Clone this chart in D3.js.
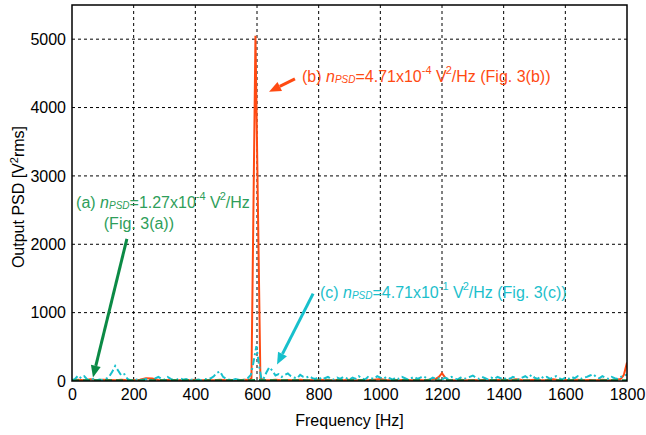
<!DOCTYPE html>
<html>
<head>
<meta charset="utf-8">
<script src="https://cdn.jsdelivr.net/npm/d3@7"></script>
<style>
  body { margin: 0; background: #fff; }
  text { font-family: "Liberation Sans", Arial, Helvetica, sans-serif; }
</style>
</head>
<body>
<div id="chart"></div>
<script>
var margin = {top: 5, right: 19, bottom: 54, left: 72};
var fullWidth = 646, fullHeight = 435;
var width = fullWidth - margin.left - margin.right;
var height = fullHeight - margin.top - margin.bottom;

var xTicks = [0, 200, 400, 600, 800, 1000, 1200, 1400, 1600, 1800];
var yTicks = [0, 1000, 2000, 3000, 4000, 5000];

// (b) orange, solid  [Hz, V^2]
var seriesB = [
  [0,10],[20,20],[40,10],[60,25],[80,10],[100,20],[120,15],[140,10],[160,20],[180,10],
  [200,15],[220,20],[240,40],[260,35],[280,15],[300,10],[320,20],[340,10],[360,15],[380,10],
  [400,20],[420,10],[440,15],[460,10],[480,20],[500,10],[520,15],[540,10],[560,20],[575,15],
  [582,40],[595,5050],[611,40],[620,15],[640,10],[660,20],[680,10],[700,15],[720,10],[740,20],
  [760,10],[780,15],[800,10],[820,20],[840,10],[860,15],[880,10],[900,20],[920,10],[940,15],
  [960,10],[980,20],[1000,30],[1020,10],[1040,15],[1060,10],[1080,20],[1100,10],[1120,15],[1140,10],
  [1160,20],[1180,30],[1190,60],[1200,115],[1210,50],[1220,15],[1240,10],[1260,20],[1280,10],[1300,15],
  [1320,10],[1340,20],[1360,10],[1380,15],[1400,20],[1420,10],[1440,25],[1460,15],[1480,10],[1500,20],
  [1520,10],[1540,15],[1560,25],[1580,10],[1600,15],[1620,10],[1640,20],[1660,10],[1680,15],[1700,10],
  [1720,20],[1740,10],[1760,15],[1780,30],[1790,90],[1800,270]
];

// (c) cyan, dash-dot
var seriesC = [
  [0,10],[10,30],[20,80],[30,40],[40,70],[50,20],[60,10],[70,30],[80,10],[90,20],
  [100,10],[110,30],[120,60],[130,130],[140,220],[150,150],[160,80],[170,100],[180,30],[190,10],
  [200,10],[210,20],[220,10],[230,20],[240,30],[250,20],[260,10],[270,40],[280,60],[290,30],
  [300,20],[310,60],[320,30],[330,10],[340,20],[350,40],[360,20],[370,30],[380,10],[390,20],
  [400,10],[410,20],[420,10],[430,30],[440,20],[450,40],[460,70],[470,120],[480,140],[490,60],
  [500,30],[510,20],[520,10],[530,30],[540,20],[550,10],[560,20],[570,40],[580,90],[588,260],
  [598,510],[607,220],[614,40],[620,20],[630,120],[640,200],[650,150],[660,80],[670,100],[680,60],
  [690,90],[700,110],[710,70],[720,50],[730,40],[740,90],[750,60],[760,50],[770,70],[780,40],
  [790,30],[800,60],[810,20],[820,40],[830,60],[840,30],[850,20],[860,50],[870,30],[880,60],
  [890,40],[900,20],[910,50],[920,30],[930,70],[940,40],[950,20],[960,60],[970,40],[980,30],
  [990,70],[1000,50],[1010,30],[1020,60],[1030,40],[1040,20],[1050,50],[1060,30],[1070,60],[1080,40],
  [1090,20],[1100,40],[1110,60],[1120,30],[1130,50],[1140,70],[1150,40],[1160,20],[1170,50],[1180,30],
  [1190,40],[1200,20],[1210,50],[1220,30],[1230,60],[1240,40],[1250,20],[1260,50],[1270,30],[1280,40],
  [1290,60],[1300,80],[1310,50],[1320,30],[1330,60],[1340,40],[1350,20],[1360,50],[1370,30],[1380,60],
  [1390,40],[1400,20],[1410,50],[1420,30],[1430,60],[1440,40],[1450,20],[1460,50],[1470,70],[1480,40],
  [1490,90],[1500,50],[1510,30],[1520,70],[1530,40],[1540,60],[1550,30],[1560,50],[1570,70],[1580,40],
  [1590,20],[1600,50],[1610,30],[1620,60],[1630,40],[1640,70],[1650,30],[1660,50],[1670,60],[1680,80],
  [1690,100],[1700,60],[1710,40],[1720,70],[1730,50],[1740,30],[1750,60],[1760,40],[1770,30],[1780,60],
  [1790,80],[1800,90]
];

// (a) green, dashed
var seriesA = [
  [0,5],[100,8],[200,5],[300,8],[400,5],[500,6],[600,10],[700,6],[800,5],[900,6],
  [1000,5],[1100,6],[1200,8],[1300,5],[1400,6],[1500,5],[1600,6],[1700,5],[1800,8]
];

var x = d3.scaleLinear().domain([0, 1800]).range([0, width]);
var y = d3.scaleLinear().domain([0, 5500]).range([height, 0]);

var svg = d3.select("#chart").append("svg")
    .attr("width", fullWidth)
    .attr("height", fullHeight);

var g = svg.append("g")
    .attr("transform", "translate(" + margin.left + "," + margin.top + ")");

svg.append("defs").append("clipPath").attr("id", "clip")
  .append("rect").attr("width", width).attr("height", height);

// grid
g.selectAll(".vgrid")
    .data(xTicks.slice(1, -1))
    .enter().append("line")
    .attr("x1", function(d) { return x(d); })
    .attr("x2", function(d) { return x(d); })
    .attr("y1", 0).attr("y2", height)
    .attr("stroke", "#000").attr("stroke-width", 1)
    .attr("stroke-dasharray", "3,3");

g.selectAll(".hgrid")
    .data(yTicks.slice(1))
    .enter().append("line")
    .attr("x1", 0).attr("x2", width)
    .attr("y1", function(d) { return y(d); })
    .attr("y2", function(d) { return y(d); })
    .attr("stroke", "#000").attr("stroke-width", 1)
    .attr("stroke-dasharray", "3,3");

// axes (labels only, frame drawn separately)
var xAxis = g.append("g")
    .attr("transform", "translate(0," + height + ")")
    .call(d3.axisBottom(x).tickValues(xTicks).tickFormat(d3.format("d")).tickSize(0).tickPadding(8));
var yAxis = g.append("g")
    .call(d3.axisLeft(y).tickValues(yTicks).tickFormat(d3.format("d")).tickSize(0).tickPadding(6));
[xAxis, yAxis].forEach(function(a) {
  a.select(".domain").remove();
  a.selectAll("text")
    .attr("font-family", "'Liberation Sans', Arial, sans-serif")
    .attr("font-size", 16)
    .attr("fill", "#000");
});

// lines
var line = d3.line()
    .x(function(d) { return x(d[0]); })
    .y(function(d) { return y(d[1]); });

var plot = g.append("g").attr("clip-path", "url(#clip)");

plot.append("path").datum(seriesB)
    .attr("d", line).attr("fill", "none")
    .attr("stroke", "#ff4a12").attr("stroke-width", 2);

plot.append("path").datum(seriesC)
    .attr("d", line).attr("fill", "none")
    .attr("stroke", "#17c0cc").attr("stroke-width", 2)
    .attr("stroke-dasharray", "7,3,2,3");

plot.append("path").datum(seriesA)
    .attr("d", line).attr("fill", "none")
    .attr("stroke", "#0b8a45").attr("stroke-width", 2.5)
    .attr("stroke-dasharray", "7,4");

// frame
g.append("rect")
    .attr("width", width).attr("height", height)
    .attr("fill", "none").attr("stroke", "#000").attr("stroke-width", 1.5);

// axis titles
svg.append("text")
    .attr("x", margin.left + width / 2).attr("y", 426)
    .attr("text-anchor", "middle").attr("font-size", 16)
    .text("Frequency [Hz]");

var yl = svg.append("text")
    .attr("transform", "translate(24," + (margin.top + height / 2 + 4) + ") rotate(-90)")
    .attr("text-anchor", "middle").attr("font-size", 16);
yl.append("tspan").text("Output PSD [V");
yl.append("tspan").attr("dy", -6).attr("font-size", 11).text("2");
yl.append("tspan").attr("dy", 6).text("rms]");

// annotations
function addLabel(parent, fx, fy, anchor, color, exp, tail) {
  var t = parent.append("text")
      .attr("x", x(fx)).attr("y", y(fy))
      .attr("text-anchor", anchor)
      .attr("font-size", 16).attr("fill", color);
  t.append("tspan").text(exp[0] + " ");
  t.append("tspan").attr("font-style", "italic").text("n");
  t.append("tspan").attr("font-style", "italic").attr("font-size", 10).attr("dy", 1).text("PSD");
  t.append("tspan").attr("dy", -1).text("=" + exp[1] + "x10");
  t.append("tspan").attr("font-size", 11).attr("dy", -8).text(exp[2]);
  t.append("tspan").attr("dy", 8).text("  V");
  t.append("tspan").attr("font-size", 11).attr("dy", -8).attr("dx", -1).text("2");
  t.append("tspan").attr("dy", 8).text("/Hz" + tail);
  return t;
}

var ann = g.append("g");

addLabel(ann, 295, 2530, "middle", "#2e9e5a", ["(a)", "1.27", "-4"], "");
ann.append("text")
    .attr("x", x(217)).attr("y", y(2220))
    .attr("text-anchor", "middle").attr("font-size", 16).attr("fill", "#2e9e5a")
    .text("(Fig. 3(a))");

addLabel(ann, 746, 4370, "start", "#ff4a12", ["(b)", "4.71", "-4"], " (Fig. 3(b))");
addLabel(ann, 804, 1210, "start", "#1cc0cc", ["(c)", "4.71", "-1"], " (Fig. 3(c))");

var arrows = [
  {from: [178, 2080], to: [68, 50], color: "#0b8a45"},
  {from: [723, 4420], to: [639, 4230], color: "#ff4a12"},
  {from: [782, 1278], to: [665, 240], color: "#17c0cc"}
];

arrows.forEach(function(a) {
  var x1 = x(a.from[0]), y1 = y(a.from[1]);
  var x2 = x(a.to[0]), y2 = y(a.to[1]);
  var ang = Math.atan2(y2 - y1, x2 - x1);
  var hl = 12, hw = 5;
  var bx = x2 - hl * Math.cos(ang), by = y2 - hl * Math.sin(ang);
  ann.append("line")
      .attr("x1", x1).attr("y1", y1).attr("x2", bx).attr("y2", by)
      .attr("stroke", a.color).attr("stroke-width", 3);
  var pts = [
    [x2, y2],
    [bx + hw * Math.sin(ang), by - hw * Math.cos(ang)],
    [bx - hw * Math.sin(ang), by + hw * Math.cos(ang)]
  ];
  ann.append("polygon")
      .attr("points", pts.map(function(p) { return p.join(","); }).join(" "))
      .attr("fill", a.color);
});
</script>
</body>
</html>
